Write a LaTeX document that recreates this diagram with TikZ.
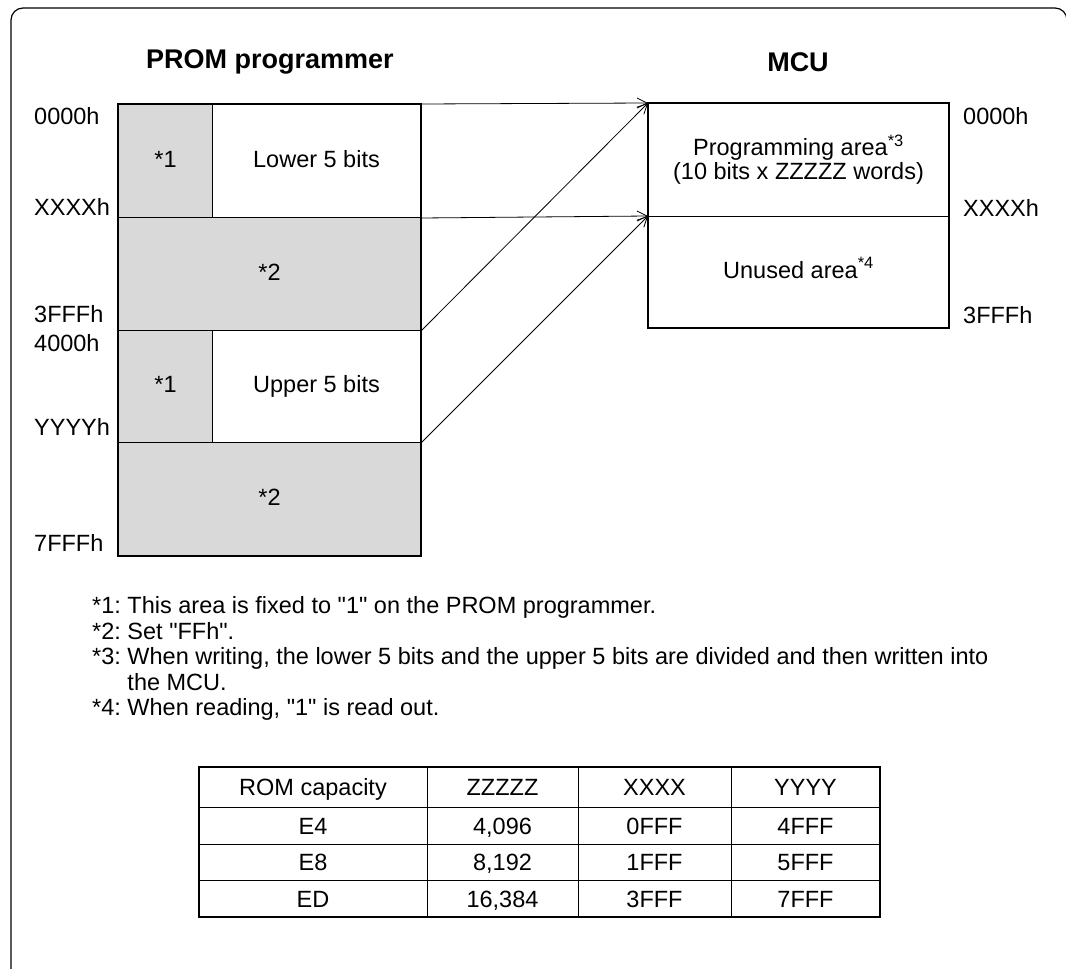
\documentclass[tikz,border=0pt]{standalone}
\usepackage{fontspec}
\setmainfont{Liberation Sans}[Ligatures=TeXOff]
\usetikzlibrary{arrows.meta}
\definecolor{shade}{RGB}{217,217,217}
\frenchspacing
\begin{document}
\begin{tikzpicture}[x=1pt,y=-1pt,
  title/.style={font=\fontsize{27}{30}\bfseries\selectfont, inner sep=0},
  lab/.style={font=\fontsize{23.5}{26}\selectfont, inner sep=0, anchor=base west},
  note/.style={font=\fontsize{23.5}{26}\selectfont, inner sep=0, anchor=base west},
  tab/.style={font=\fontsize{23.5}{26}\selectfont, inner sep=0, anchor=base},
  cell/.style={draw, line width=1pt, inner sep=0, anchor=north west, text height=17pt, text depth=5pt, font=\fontsize{23.5}{26}\selectfont},
  grey/.style={cell, fill=shade},
  outer/.style={draw, line width=2pt},
  conn/.style={line width=0.8pt, -{Straight Barb[length=10pt,width=10pt]}}
]
\useasboundingbox (0,0) rectangle (1066,969);
\begin{scope}
\clip (0,0) rectangle (1066,969);
\draw[line width=1.2pt, rounded corners=12pt] (11,990) -- (11,8) -- (1067,8) -- (1067,990) -- cycle;
\end{scope}

% titles
\node[title] (t1) at (270,62) {PROM programmer};
\node[title] (t2) at (798,62) {MCU};

% PROM programmer map
\node[grey, minimum width=94pt, minimum height=113pt] (c1a) at (118,104) {*1};
\node[cell, minimum width=208pt, minimum height=113pt] (low) at (212,104) {Lower 5 bits};
\node[grey, minimum width=302pt, minimum height=113pt] (c2a) at (118,217) {*2};
\node[grey, minimum width=94pt, minimum height=112pt] (c1b) at (118,330) {*1};
\node[cell, minimum width=208pt, minimum height=112pt] (up) at (212,330) {Upper 5 bits};
\node[grey, minimum width=302pt, minimum height=113pt] (c2b) at (118,442) {*2};
\draw[outer] (c1a.north west) rectangle (c2b.south east);

% MCU map
\node[draw, line width=1pt, inner sep=0, anchor=north west, minimum width=300pt, minimum height=113pt, align=center, font=\fontsize{23.5}{24}\selectfont] (prog) at (648,103)
  {Programming area\textsuperscript{*3}\\(10 bits x ZZZZZ words)};
\node[cell, minimum width=300pt, minimum height=111pt] (unused) at (648,216) {Unused area\textsuperscript{*4}};
\draw[outer] (prog.north west) rectangle (unused.south east);

% connectors
\draw[conn] (low.north east) -- (prog.north west);
\draw[conn] (c2a.south east) -- (prog.north west);
\draw[conn] (low.south east) -- (unused.north west);
\draw[conn] (up.south east) -- (unused.north west);

% address labels left
\node[lab] (a0) at (34,124.5) {0000h};
\node[lab] (a1) at (34,215.5) {XXXXh};
\node[lab] (a2) at (34,322.5) {3FFFh};
\node[lab] (a3) at (34,351.5) {4000h};
\node[lab] (a4) at (34,435.5) {YYYYh};
\node[lab] (a5) at (34,551) {7FFFh};
% address labels right
\node[lab] (b0) at (963,124.5) {0000h};
\node[lab] (b1) at (963,216.5) {XXXXh};
\node[lab] (b2) at (963,323.5) {3FFFh};

% notes
\node[note] (n1) at (92,613.5) {*1: This area is fixed to "1" on the PROM programmer.};
\node[note] (n2) at (92,639.5) {*2: Set "FFh".};
\node[note] (n3) at (92,664.5) {*3: When writing, the lower 5 bits and the upper 5 bits are divided and then written into};
\node[note] (n3b) at (92,690.5) {\phantom{*3: }the MCU.};
\node[note] (n4) at (92,715.5) {*4: When reading, "1" is read out.};

% table
\def\ya{767}\def\yb{807}\def\yc{844}\def\yd{880}\def\ye{917}
\foreach \x in {427,578,731} \draw[line width=1pt] (\x,\ya) -- (\x,\ye);
\foreach \y in {\yb,\yc,\yd} \draw[line width=1pt] (199,\y) -- (880,\y);
\draw[outer] (199,\ya) rectangle (880,\ye);
\node[tab] (h1) at (313,795.5) {ROM capacity};
\node[tab] (h2) at (502.5,795.5) {ZZZZZ};
\node[tab] (h3) at (654.5,795.5) {XXXX};
\node[tab] (h4) at (805.5,795.5) {YYYY};
\node[tab] (r11) at (313,834) {E4};
\node[tab] (r12) at (502.5,834) {4,096};
\node[tab] (r13) at (654.5,834) {0FFF};
\node[tab] (r14) at (805.5,834) {4FFF};
\node[tab] (r21) at (313,870.5) {E8};
\node[tab] (r22) at (502.5,870.5) {8,192};
\node[tab] (r23) at (654.5,870.5) {1FFF};
\node[tab] (r24) at (805.5,870.5) {5FFF};
\node[tab] (r31) at (313,907) {ED};
\node[tab] (r32) at (502.5,907) {16,384};
\node[tab] (r33) at (654.5,907) {3FFF};
\node[tab] (r34) at (805.5,907) {7FFF};
\end{tikzpicture}
\end{document}
